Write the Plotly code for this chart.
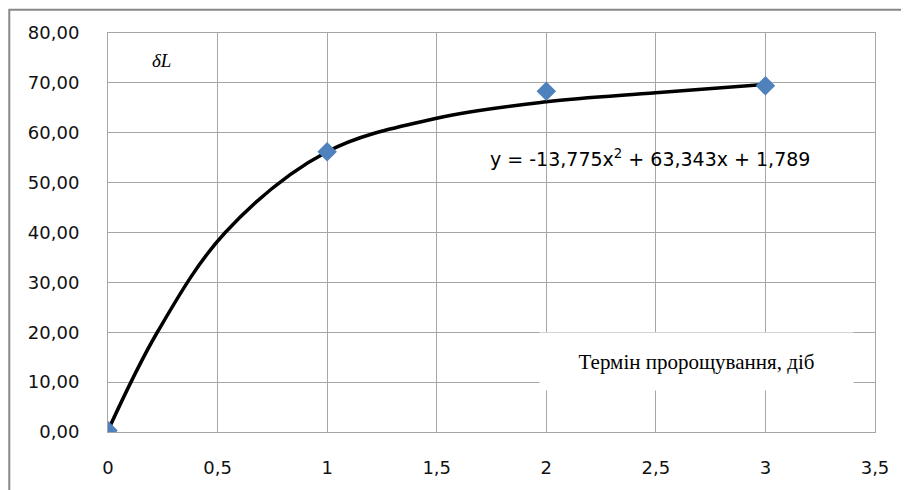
import plotly.graph_objects as go

# measured points
days = [0, 1, 2, 3]
delta_L = [0.3, 56.2, 68.3, 69.4]

# smoothed curve as drawn on the chart
curve_x = [0, 0.225, 0.535, 1.0, 1.5, 2.0, 2.5, 3.0]
curve_y = [0.3, 20.0, 40.0, 56.2, 62.9, 66.2, 68.0, 69.7]

x_ticks = [0, 0.5, 1, 1.5, 2, 2.5, 3, 3.5]
equation_text = "y = -13,775x<sup>2</sup> + 63,343x + 1,789"
y_label = "δL"
x_label = "Термін пророщування, діб"

fig = go.Figure()
fig.add_trace(go.Scatter(
    x=curve_x, y=curve_y, mode="lines",
    line=dict(color="black", width=3.5, shape="spline", smoothing=1.0),
    hoverinfo="skip", showlegend=False))
fig.add_trace(go.Scatter(
    x=days, y=delta_L, mode="markers",
    marker=dict(symbol="diamond", size=15, color="#4F81BD"),
    showlegend=False))

tickfont = dict(family="DejaVu Sans, sans-serif", size=18, color="#111")
fig.update_xaxes(range=[0, 3.5], tickvals=x_ticks, showgrid=True, gridcolor="#a6a6a6",
                 gridwidth=1, zeroline=False, showline=True, linecolor="#a6a6a6", mirror=True,
                 tickfont=tickfont, ticks="", ticklabelstandoff=19)
fig.update_yaxes(range=[0, 80], dtick=10, tickformat=".2f", showgrid=True, gridcolor="#a6a6a6",
                 gridwidth=1, zeroline=False, showline=True, linecolor="#a6a6a6", mirror=True,
                 tickfont=tickfont, ticks="", ticklabelstandoff=24)

fig.add_annotation(x=0.070, y=0.930, xref="paper", yref="paper", text="<i>" + y_label + "</i>",
                   xanchor="center", yanchor="middle",
                   showarrow=False, font=dict(family="Liberation Serif, serif", size=19, color="black"))
fig.add_annotation(x=0.707, y=0.686, xref="paper", yref="paper", text=equation_text,
                   xanchor="center", yanchor="middle",
                   showarrow=False, font=dict(family="DejaVu Sans, sans-serif", size=19, color="black"))
fig.add_annotation(x=0.767, y=0.176, xref="paper", yref="paper", text=x_label,
                   xanchor="center", yanchor="middle",
                   showarrow=False, bgcolor="white", width=313, height=57, borderpad=0,
                   font=dict(family="Liberation Serif, serif", size=21, color="black"))

# outer chart frame
fig.add_shape(type="rect", xref="paper", yref="paper", x0=-0.1287, x1=1.05, y0=-0.2, y1=1.058,
              line=dict(color="#888", width=2), fillcolor="rgba(0,0,0,0)", layer="below")

fig.update_layout(width=893, height=482, margin=dict(l=100, r=24, t=25, b=53),
                  plot_bgcolor="white", paper_bgcolor="white", separators=", ",
                  showlegend=False)
fig.write_html("out.html")
